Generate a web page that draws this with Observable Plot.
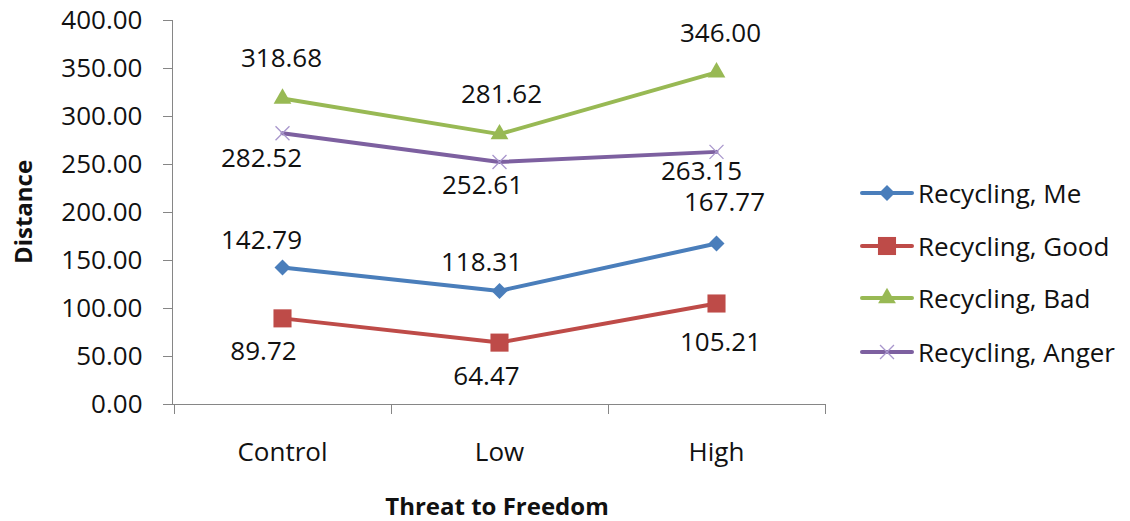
<!DOCTYPE html>
<html>
<head>
<meta charset="utf-8">
<script src="https://cdn.jsdelivr.net/npm/d3@7"></script>
<script src="https://cdn.jsdelivr.net/npm/@observablehq/plot@0.6"></script>
<style>
  html, body { margin: 0; padding: 0; background: #fff; }
  #wrap { position: relative; width: 1130px; height: 521px; font-family: "Open Sans", sans-serif; color: #111; }
  .ttl { position: absolute; font-weight: 700; font-size: 24px; white-space: nowrap; line-height: 1; }
  #legend { position: absolute; left: 860px; top: 0; }
  .lg { position: absolute; left: 0; display: flex; align-items: center; font-size: 26px; white-space: nowrap; }
  .lg svg { display: block; margin-right: 4px; }
</style>
</head>
<body>
<div id="wrap"></div>
<script>
// Threat-to-freedom conditions and the four recycling measures
const categories = ["Control", "Low", "High"];
const seriesNames = ["Recycling, Me", "Recycling, Good", "Recycling, Bad", "Recycling, Anger"];
const meValues    = [142.79, 118.31, 167.77];
const goodValues  = [89.72, 64.47, 105.21];
const badValues   = [318.68, 281.62, 346.00];
const angerValues = [282.52, 252.61, 263.15];
const yTicks = [0, 50, 100, 150, 200, 250, 300, 350, 400];

// Styling per series
const colors  = ["#4A7EBB", "#BE4B48", "#98B954", "#7D60A0"];
const symbols = ["diamond2", "square", "triangle", "times"];
// Value-label offsets (px) for each series, per category
const labelDx = [[-21, -18, 8], [-19, -13, 4], [-1, 2, 4], [-21, -17, -15]];
const labelDy = [[-27, -28, -41], [33, 34, 39], [-40, -39, -39], [25, 24, 20]];

const seriesValues = [meValues, goodValues, badValues, angerValues];
const rows = seriesNames.flatMap((s, si) =>
  categories.map((c, ci) => ({series: s, si, ci, cat: c, value: seriesValues[si][ci]})));

const W = 1130, H = 521;
const axisColor = "#868686";

// Axis lines, y ticks and category separators drawn from the scales
function axisFrame(index, scales, values, dims) {
  const g = d3.create("svg:g").attr("stroke", axisColor).attr("stroke-width", 1).attr("fill", "none");
  const left = dims.marginLeft, right = dims.width - dims.marginRight;
  const y0 = scales.y(0), yTop = scales.y(400);
  g.append("line").attr("x1", left + 0.5).attr("x2", left + 0.5).attr("y1", yTop).attr("y2", y0);
  g.append("line").attr("x1", left - 9).attr("x2", right).attr("y1", y0 + 0.5).attr("y2", y0 + 0.5);
  for (const t of yTicks) {
    const y = Math.round(scales.y(t)) + 0.5;
    g.append("line").attr("x1", left - 9).attr("x2", left).attr("y1", y).attr("y2", y);
  }
  const xs = categories.map(c => scales.x(c));
  const step = xs[1] - xs[0];
  const bounds = [xs[0] - step / 2, ...xs.map(x => x + step / 2)];
  for (const b of bounds) {
    const x = Math.round(b) + 0.5;
    g.append("line").attr("x1", x).attr("x2", x).attr("y1", y0).attr("y2", y0 + 10);
  }
  return g.node();
}

const marks = [axisFrame,
  Plot.axisY({ticks: yTicks, tickFormat: d3.format(".2f"), tickSize: 0, tickPadding: 30, fill: "#111", label: null}),
  Plot.axisX({tickSize: 0, tickPadding: 38, fill: "#111", label: null})
];

seriesNames.forEach((s, si) => {
  const data = rows.filter(r => r.si === si);
  marks.push(Plot.line(data, {x: "cat", y: "value", stroke: colors[si], strokeWidth: 4, strokeLinejoin: "round"}));
  if (symbols[si] === "times") {
    marks.push(Plot.dot(data, {x: "cat", y: "value", symbol: "times", r: 6.4, stroke: "#A896CC", strokeWidth: 1.3}));
  } else {
    const r = symbols[si] === "square" ? 10.2 : symbols[si] === "triangle" ? 6.6 : 7.2;
    marks.push(Plot.dot(data, {x: "cat", y: "value", symbol: symbols[si], r, fill: colors[si], stroke: "none"}));
  }
});

rows.forEach(d => {
  marks.push(Plot.text([d], {x: "cat", y: "value", text: r => r.value.toFixed(2),
    dx: labelDx[d.si][d.ci], dy: labelDy[d.si][d.ci], fill: "#111", fontSize: 26}));
});

const chart = Plot.plot({
  width: W, height: H,
  marginLeft: 172, marginRight: 305, marginTop: 20, marginBottom: 117,
  style: {fontFamily: "Open Sans, sans-serif", fontSize: "26px", background: "#fff", overflow: "visible"},
  x: {type: "point", domain: categories, padding: 0.5, axis: null, label: null},
  y: {domain: [0, 400], axis: null, label: null},
  marks
});

const wrap = document.getElementById("wrap");
wrap.appendChild(chart);

// Axis titles
const xt = document.createElement("div");
xt.className = "ttl"; xt.textContent = "Threat to Freedom";
xt.style.left = "497px"; xt.style.top = "506px"; xt.style.transform = "translate(-50%, -50%)";
wrap.appendChild(xt);
const yt = document.createElement("div");
yt.className = "ttl"; yt.textContent = "Distance";
yt.style.left = "23px"; yt.style.top = "212px"; yt.style.transform = "translate(-50%, -50%) rotate(-90deg)";
wrap.appendChild(yt);

// Legend
const legend = document.createElement("div");
legend.id = "legend";
wrap.appendChild(legend);
const legendTops = [193, 246, 298, 352];
seriesNames.forEach((s, si) => {
  const row = document.createElement("div");
  row.className = "lg";
  row.style.top = (legendTops[si] - 18) + "px";
  const svg = d3.create("svg").attr("width", 54).attr("height", 36);
  svg.append("line").attr("x1", 2).attr("x2", 52).attr("y1", 18).attr("y2", 18)
    .attr("stroke", colors[si]).attr("stroke-width", 4).attr("stroke-linecap", "round");
  const typeMap = {diamond2: d3.symbolDiamond2, square: d3.symbolSquare, triangle: d3.symbolTriangle, times: d3.symbolTimes};
  const r = symbols[si] === "square" ? 10.2 : symbols[si] === "triangle" ? 6.6 : symbols[si] === "times" ? 6.4 : 7.2;
  const path = d3.symbol(typeMap[symbols[si]], Math.PI * r * r)();
  const p = svg.append("path").attr("d", path).attr("transform", "translate(27,18)");
  if (symbols[si] === "times") p.attr("fill", "none").attr("stroke", "#A896CC").attr("stroke-width", 1.3);
  else p.attr("fill", colors[si]);
  row.appendChild(svg.node());
  const t = document.createElement("span");
  t.textContent = s;
  row.appendChild(t);
  legend.appendChild(row);
});
</script>
</body>
</html>
